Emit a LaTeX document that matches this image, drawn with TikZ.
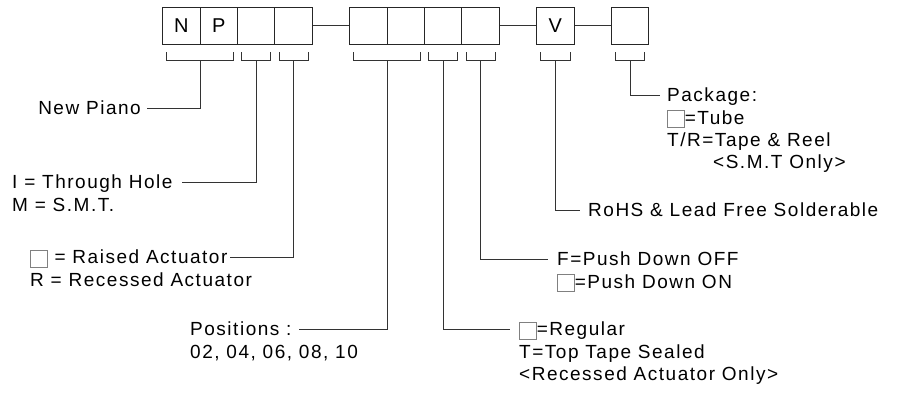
\documentclass[tikz,border=0pt]{standalone}
\usepackage{fontspec}
\setmainfont{Liberation Sans}[LetterSpace=8]
\usepackage{tikz}
\usetikzlibrary{positioning}

\tikzset{
  cell/.style={draw=black!85, line width=0.9pt, minimum width=37.4pt, minimum height=37pt, inner sep=0pt, font=\fontsize{20}{22}\selectfont},
  lbl/.style={font=\fontsize{19}{21.7}\selectfont, inner sep=0pt, text height=17.8pt, text depth=4pt},
  wire/.style={draw=black!80, line width=0.9pt},
}
\newcommand{\blank}{\raisebox{-3pt}{\color{gray}\setlength{\fboxsep}{0pt}\setlength{\fboxrule}{0.8pt}\fbox{\rule{0pt}{16pt}\rule{16pt}{0pt}}}}

\begin{document}
\begin{tikzpicture}[x=1pt,y=-1pt]
  \useasboundingbox (0,0) rectangle (916,394);
  % part number boxes
  \foreach \i/\t in {0/N,1/P,2/,3/,5/,6/,7/,8/,10/V,12/}
    \node[cell] (b\i) at (181.4+37.4*\i,25.5) {\t};
  \draw[wire] (b3) -- (b5);
  \draw[wire] (b8) -- (b10);
  \draw[wire] (b10) -- (b12);
  % brackets under the boxes
  \foreach \l/\r/\n in {0/1/s1,2/2/s2,3/3/s3,5/6/s4,7/7/s5,8/8/s6,10/10/s7,12/12/s8}
    \draw[wire] ([xshift=4.5pt,yshift=-8pt]b\l.south west) -- ++(0,8)
      -- coordinate[midway] (\n) ([xshift=-4.5pt,yshift=-16pt]b\r.south east)
      -- ++(0,-8);
  % left labels
  \node[lbl, anchor=east] (piano) at (141,108) {New Piano};
  \node[lbl, anchor=west] (hole) at (12,182) {I = Through Hole};
  \node[lbl, anchor=north west] (smt) at (hole.south west) {M = S.M.T.};
  \node[lbl, anchor=west] (raised) at (30,257) {\blank{} = Raised Actuator};
  \node[lbl, anchor=north west] (recessed) at (raised.south west) {R = Recessed Actuator};
  \node[lbl, anchor=west] (pos) at (190,329) {Positions :};
  \node[lbl, anchor=north west] (posnum) at (pos.south west) {02, 04, 06, 08, 10};
  % right labels
  \node[lbl, anchor=west] (regular) at (519,329) {\blank=Regular};
  \node[lbl, anchor=north west] (toptape) at (regular.south west) {T=Top Tape Sealed};
  \node[lbl, anchor=north west] (raonly) at (toptape.south west) {<Recessed Actuator Only>};
  \node[lbl, anchor=west] (pushoff) at (557,259) {F=Push Down OFF};
  \node[lbl, anchor=north west] (pushon) at (pushoff.south west) {\blank=Push Down ON};
  \node[lbl, anchor=west] (rohs) at (588,210) {RoHS \& Lead Free Solderable};
  \node[lbl, anchor=west] (pkg) at (667,95) {Package:};
  \node[lbl, anchor=north west] (tube) at (pkg.south west) {\blank=Tube};
  \node[lbl, anchor=north west] (reel) at (tube.south west) {T/R=Tape \& Reel};
  \node[lbl, anchor=north west] (smtonly) at ([xshift=46pt]reel.south west) {<S.M.T Only>};
  % leaders
  \draw[wire, shorten >=6pt] (s1) |- (piano);
  \draw[wire, shorten >=9pt] (s2) |- (hole);
  \draw[wire, shorten >=2pt] (s3) |- (raised);
  \draw[wire, shorten >=7pt] (s4) |- (pos);
  \draw[wire, shorten >=9pt] (s5) |- (regular);
  \draw[wire, shorten >=9pt] (s6) |- (pushoff);
  \draw[wire, shorten >=8pt] (s7) |- (rohs);
  \draw[wire, shorten >=7pt] (s8) |- (pkg);
\end{tikzpicture}
\end{document}
